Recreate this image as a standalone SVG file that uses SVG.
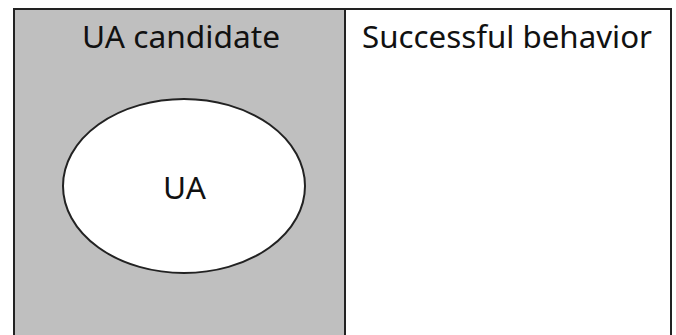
<svg xmlns="http://www.w3.org/2000/svg" width="676" height="335" viewBox="0 0 676 335">
<style>
.box{stroke:#222;stroke-width:2}
.t{font-family:"Noto Sans","Open Sans",sans-serif;font-size:31px;fill:#111;text-anchor:middle}
</style>
<rect width="676" height="335" fill="#fff"/>
<g id="ua-candidate">
<rect class="box" x="14" y="9" width="331" height="340" fill="#bfbfbf"/>
<text class="t" x="181" y="48" textLength="198" lengthAdjust="spacingAndGlyphs">UA candidate</text>
</g>
<g id="successful-behavior">
<rect class="box" x="345" y="9" width="326" height="340" fill="#fff"/>
<text class="t" x="507" y="48" textLength="290" lengthAdjust="spacingAndGlyphs">Successful behavior</text>
</g>
<g id="ua">
<ellipse class="box" cx="184" cy="186" rx="121" ry="87" fill="#fff"/>
<text class="t" x="184.5" y="199" textLength="43" lengthAdjust="spacingAndGlyphs">UA</text>
</g>
<g id="connectors"/>
</svg>
